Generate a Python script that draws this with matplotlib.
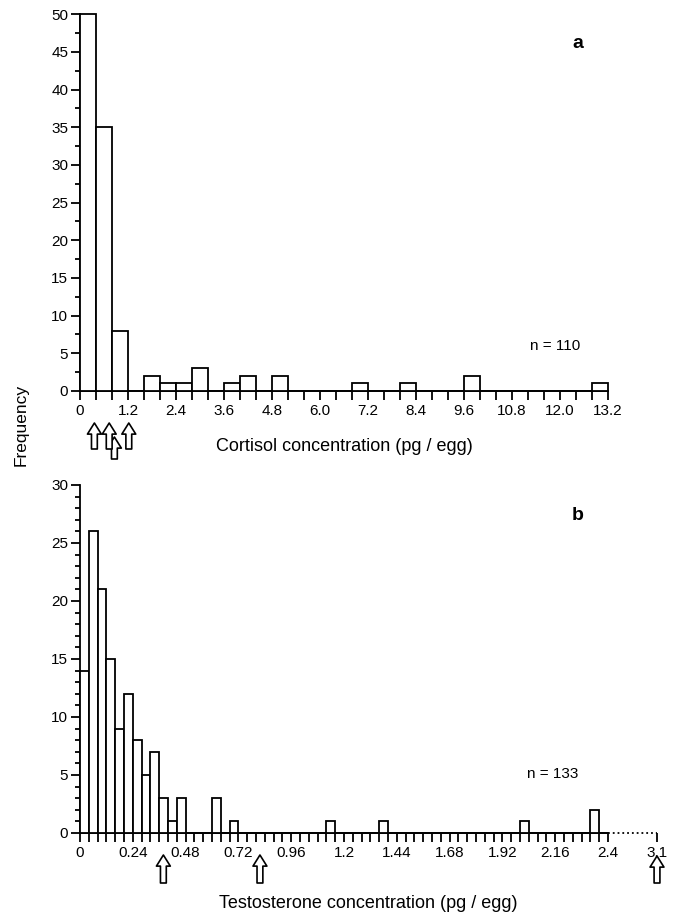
import numpy as np
import matplotlib
matplotlib.use("Agg")
import matplotlib.pyplot as plt
import matplotlib.transforms as mtrans

plt.rcParams['font.family'] = ['Liberation Sans', 'DejaVu Sans']

# panel a: cortisol, bins of 0.4 pg/egg from 0 to 13.2
cortBinW = 0.4
cortCounts = [50, 35, 8, 0, 2, 1, 1, 3, 0, 1, 2, 0, 2,
              0, 0, 0, 0, 1, 0, 0, 1, 0, 0, 0, 2,
              0, 0, 0, 0, 0, 0, 0, 1]
cortTicks = [0, 1.2, 2.4, 3.6, 4.8, 6.0, 7.2, 8.4, 9.6, 10.8, 12.0, 13.2]
cortTickLabs = ["0", "1.2", "2.4", "3.6", "4.8", "6.0", "7.2", "8.4", "9.6", "10.8", "12.0", "13.2"]
cortArrows = [0.36, 0.73, 1.22]
cortArrowLow = [0.86]

# panel b: testosterone, bins of 0.04 pg/egg from 0 to 2.4
testBinW = 0.04
testCounts = [14, 26, 21, 15, 9, 12, 8, 5, 7, 3, 1, 3, 0, 0, 0, 3, 0, 1,
              0, 0, 0, 0, 0, 0, 0, 0, 0, 0, 1, 0, 0, 0, 0, 0, 1, 0,
              0, 0, 0, 0, 0, 0, 0, 0, 0, 0, 0, 0, 0, 0, 1, 0, 0, 0,
              0, 0, 0, 0, 2, 0]
testTicks = [0, 0.24, 0.48, 0.72, 0.96, 1.2, 1.44, 1.68, 1.92, 2.16, 2.4]
testTickLabs = ["0", "0.24", "0.48", "0.72", "0.96", "1.2", "1.44", "1.68", "1.92", "2.16", "2.4"]
testArrows = [0.379, 0.818]
testBreakPos = 2.623   # where the broken axis puts 3.1
testBreakLab = "3.1"

W, H = 675, 914
fig = plt.figure(figsize=(W/100., H/100.), dpi=100)

def px2fig(x0, y0, x1, y1):
	return [x0/W, 1-y1/H, (x1-x0)/W, (y1-y0)/H]

axA = fig.add_axes(px2fig(80, 14.3, 608, 391))
axB = fig.add_axes(px2fig(80, 485, 657, 833))

lw = 1.3
tfs = 11

def styleAx(ax):
	for s in ["top", "right"]:
		ax.spines[s].set_visible(False)
	for s in ["left", "bottom"]:
		ax.spines[s].set_linewidth(lw)
	ax.tick_params(which="both", direction="out", width=lw, labelsize=tfs)
	ax.tick_params(which="major", length=6.5)
	ax.tick_params(axis="x", which="minor", length=6.5)
	ax.tick_params(axis="y", which="minor", length=3.5)
	ax.tick_params(axis="x", pad=3)
	ax.tick_params(axis="y", pad=2)

# ---- panel a
nA = len(cortCounts)
xA = np.arange(nA)*cortBinW
axA.bar(xA, cortCounts, width=cortBinW, align="edge", facecolor="white",
	edgecolor="black", linewidth=lw, clip_on=False, zorder=3)
axA.set_xlim(0, 13.2)
axA.set_ylim(0, 50)
styleAx(axA)
axA.set_xticks(cortTicks)
axA.set_xticklabels(cortTickLabs)
axA.set_xticks(np.arange(0, 13.2+0.01, cortBinW), minor=True)
axA.set_yticks(np.arange(0, 51, 5))
axA.set_yticks(np.arange(0, 50.1, 2.5), minor=True)
axA.set_xlabel("Cortisol concentration (pg / egg)", fontsize=13)
axA.xaxis.set_label_coords(0.5, (391-438.)/(391-14.3), transform=axA.transAxes)
axA.text(0.9, 0.12, "n = 110", transform=axA.transAxes, fontsize=11, ha="center", va="center")

# ---- panel b
nB = len(testCounts)
xB = np.arange(nB)*testBinW
axB.bar(xB, testCounts, width=testBinW, align="edge", facecolor="white",
	edgecolor="black", linewidth=lw, clip_on=False, zorder=3)
axB.set_xlim(0, testBreakPos)
axB.set_ylim(0, 30)
styleAx(axB)
axB.spines["bottom"].set_bounds(0, 2.4)
axB.plot([2.4, testBreakPos], [0, 0], color="black", linestyle=":", linewidth=lw, clip_on=False)
axB.set_xticks(testTicks + [testBreakPos])
axB.set_xticklabels(testTickLabs + [testBreakLab])
axB.set_xticks(np.arange(0, 2.4+0.001, testBinW), minor=True)
axB.set_yticks(np.arange(0, 31, 5))
axB.set_yticks(np.arange(0, 31, 1), minor=True)
axB.set_xlabel("Testosterone concentration (pg / egg)", fontsize=13)
axB.xaxis.set_label_coords(0.5, (833-895.)/(833-485), transform=axB.transAxes)
axB.text(0.82, 0.17, "n = 133", transform=axB.transAxes, fontsize=11, ha="center", va="center")

fig.text(572./W, 1-44./H, "a", fontsize=14, fontweight="bold", va="center")
fig.text(572./W, 1-516./H, "b", fontsize=14, fontweight="bold", va="center")
fig.text(21./W, 1-425./H, "Frequency", rotation=90, fontsize=12.5, ha="center", va="center")

# ---- arrows under the axes
def upArrow(ax, x, yTip, yTail):
	tr = mtrans.blended_transform_factory(ax.transData, fig.transFigure)
	ax.annotate("", xy=(x, 1-yTip/H), xytext=(x, 1-yTail/H), xycoords=tr, textcoords=tr,
		arrowprops=dict(arrowstyle="simple,head_width=1.0,head_length=0.8,tail_width=0.42",
			mutation_scale=10, fc="white", ec="black", lw=1.2, shrinkA=0, shrinkB=0),
		annotation_clip=False)

for x in cortArrowLow:
	upArrow(axA, x, 437, 459)
for x in cortArrows:
	upArrow(axA, x, 423, 449)
for x in testArrows:
	upArrow(axB, x, 855, 883)
upArrow(axB, testBreakPos, 856, 883)

fig.savefig("out.png", dpi=100)
